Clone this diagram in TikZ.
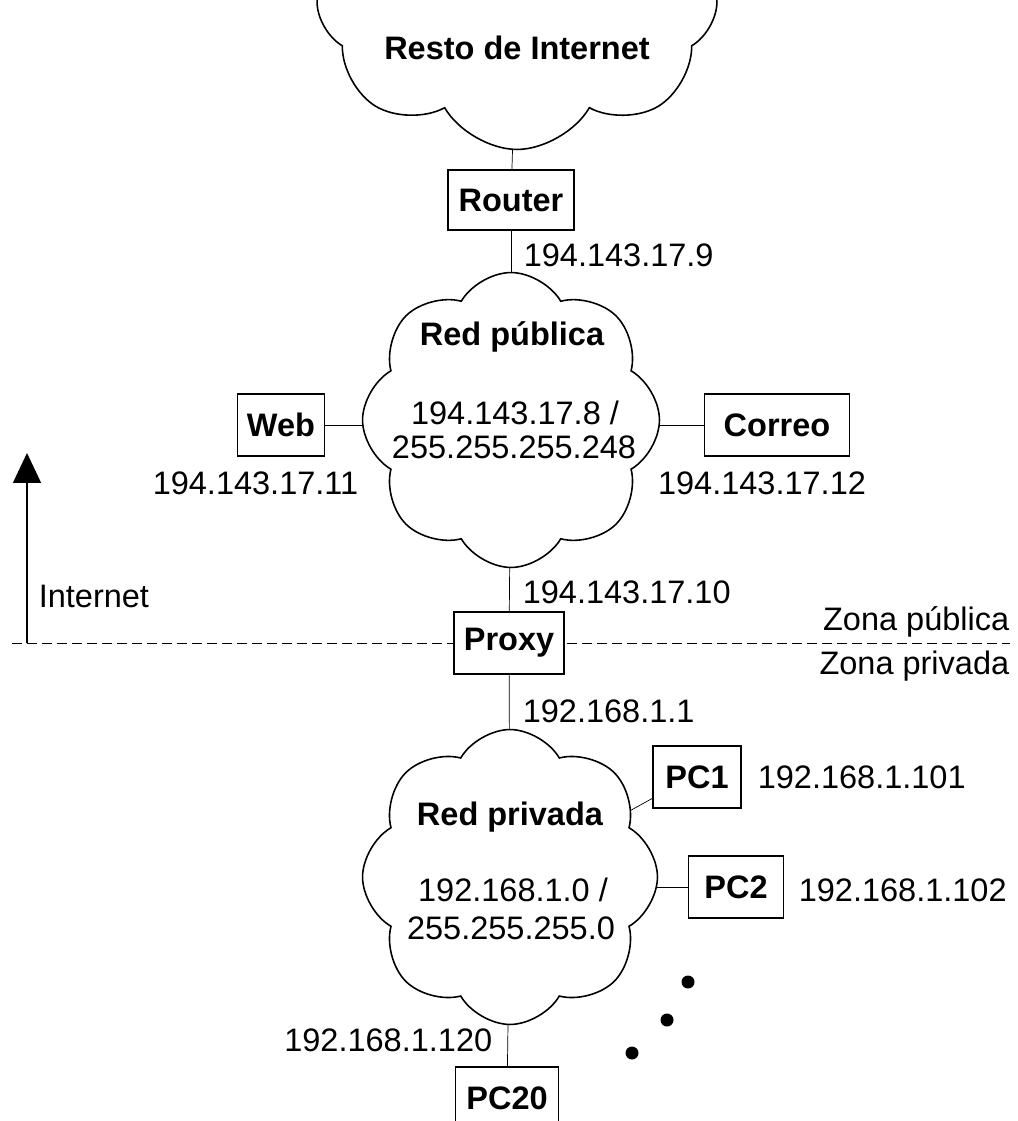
\documentclass[tikz,border=0pt]{standalone}
\usepackage{fontspec}
\setmainfont{Liberation Sans}
\usetikzlibrary{shapes.symbols, arrows.meta, positioning, calc, backgrounds}

\newcommand{\diagfont}{\fontsize{18.5}{22}\selectfont}

\tikzset{
  netcloud/.style={cloud, cloud puffs=8, cloud puff arc=120, draw, fill=white, inner sep=0pt},
  hostbox/.style={rectangle, draw, fill=white, font=\diagfont\bfseries, inner sep=0pt, minimum height=1.23cm},
  addr/.style={inner sep=0pt},
  netname/.style={inner sep=0pt, font=\diagfont\bfseries}
}

\begin{document}
\begin{tikzpicture}[x=0.02cm, y=-0.02cm, line width=0.9pt, font=\diagfont]
  \useasboundingbox (0,0) rectangle (1017,1121);
  \clip (0,0) rectangle (1017,1121);

  % public side
  \node[netcloud, minimum width=8cm, minimum height=5.9cm] (inet) at (517,2) {};
  \node[netname] (inettxt) at (517,48) {Resto de Internet};
  \node[hostbox, minimum width=2.52cm, minimum height=1.2cm] (router) at (511,200) {Router};
  \node[addr, anchor=west] (ipr) at (523,255) {194.143.17.9};

  \node[netcloud, minimum width=5.94cm, minimum height=5.9cm] (pub) at (511,420) {};
  \node[netname] (pubname) at (512,337) {Red pública};
  \node[addr] (pubnet) at (515,413) {194.143.17.8 /};
  \node[addr] (pubmask) at (514,447) {255.255.255.248};

  \node[hostbox, minimum width=1.74cm] (web) at (281,425) {Web};
  \node[addr, anchor=east] (ipweb) at (359,483) {194.143.17.11};
  \node[hostbox, minimum width=2.9cm] (correo) at (777,425) {Correo};
  \node[addr] (ipcorreo) at (762,483) {194.143.17.12};

  \node[addr, anchor=west] (ippub) at (522,592) {194.143.17.10};
  \node[hostbox, minimum width=2.2cm] (proxy) at (509,643) {Proxy};

  % zones
  \coordinate (zl) at (12,643);
  \coordinate (zr) at (1010,643);
  \node[addr, anchor=east] (zpub) at (1010,622) {Zona pública};
  \node[addr, anchor=east] (zpriv) at (1010,666) {Zona privada};
  \coordinate (arrbase) at (27,643);
  \coordinate (arrtip) at (27,453);
  \draw[-{Triangle[length=0.6cm, width=0.56cm]}] (arrbase) -- (arrtip);
  \node[addr, anchor=west] (inetlbl) at (38,596) {Internet};

  % private side
  \node[addr, anchor=west] (ippriv) at (522,711) {192.168.1.1};
  \node[netcloud, minimum width=5.9cm, minimum height=5.9cm] (priv) at (510,877) {};
  \node[netname] (privname) at (510,817) {Red privada};
  \node[addr] (privnet) at (513,890) {192.168.1.0 /};
  \node[addr] (privmask) at (511,928) {255.255.255.0};

  \node[hostbox, minimum width=1.76cm] (pc1) at (697,777) {PC1};
  \node[addr, anchor=west] (ippc1) at (757,777) {192.168.1.101};
  \node[hostbox, minimum width=1.9cm] (pc2) at (736,887) {PC2};
  \node[addr, anchor=west] (ippc2) at (798,890) {192.168.1.102};
  \node[hostbox, minimum width=2.06cm] (pc20) at (507,1098) {PC20};
  \node[addr, anchor=east] (ippc20) at (493,1040) {192.168.1.120};

  \foreach \p in {(688,982), (667,1020), (632,1053)}
    \fill \p circle[radius=0.13cm];

  % connectors
  \begin{scope}[on background layer]
    \draw (inet.center) -- (router);
    \draw (router) -- (pub.center);
    \draw (web) -- (web -| pub.center);
    \draw (correo) -- (correo -| pub.center);
    \draw (pub.center) -- (proxy);
    \draw[dash pattern=on 0.2cm off 0.1cm] (zl) -- (zr);
    \draw (proxy) -- (priv.center);
    \draw ($(pc1.south west)!0.16!(pc1.north west)$) -- (priv.center);
    \draw (pc2) -- (pc2 -| priv.center);
    \draw (priv.center) -- (pc20);
  \end{scope}
\end{tikzpicture}
\end{document}
